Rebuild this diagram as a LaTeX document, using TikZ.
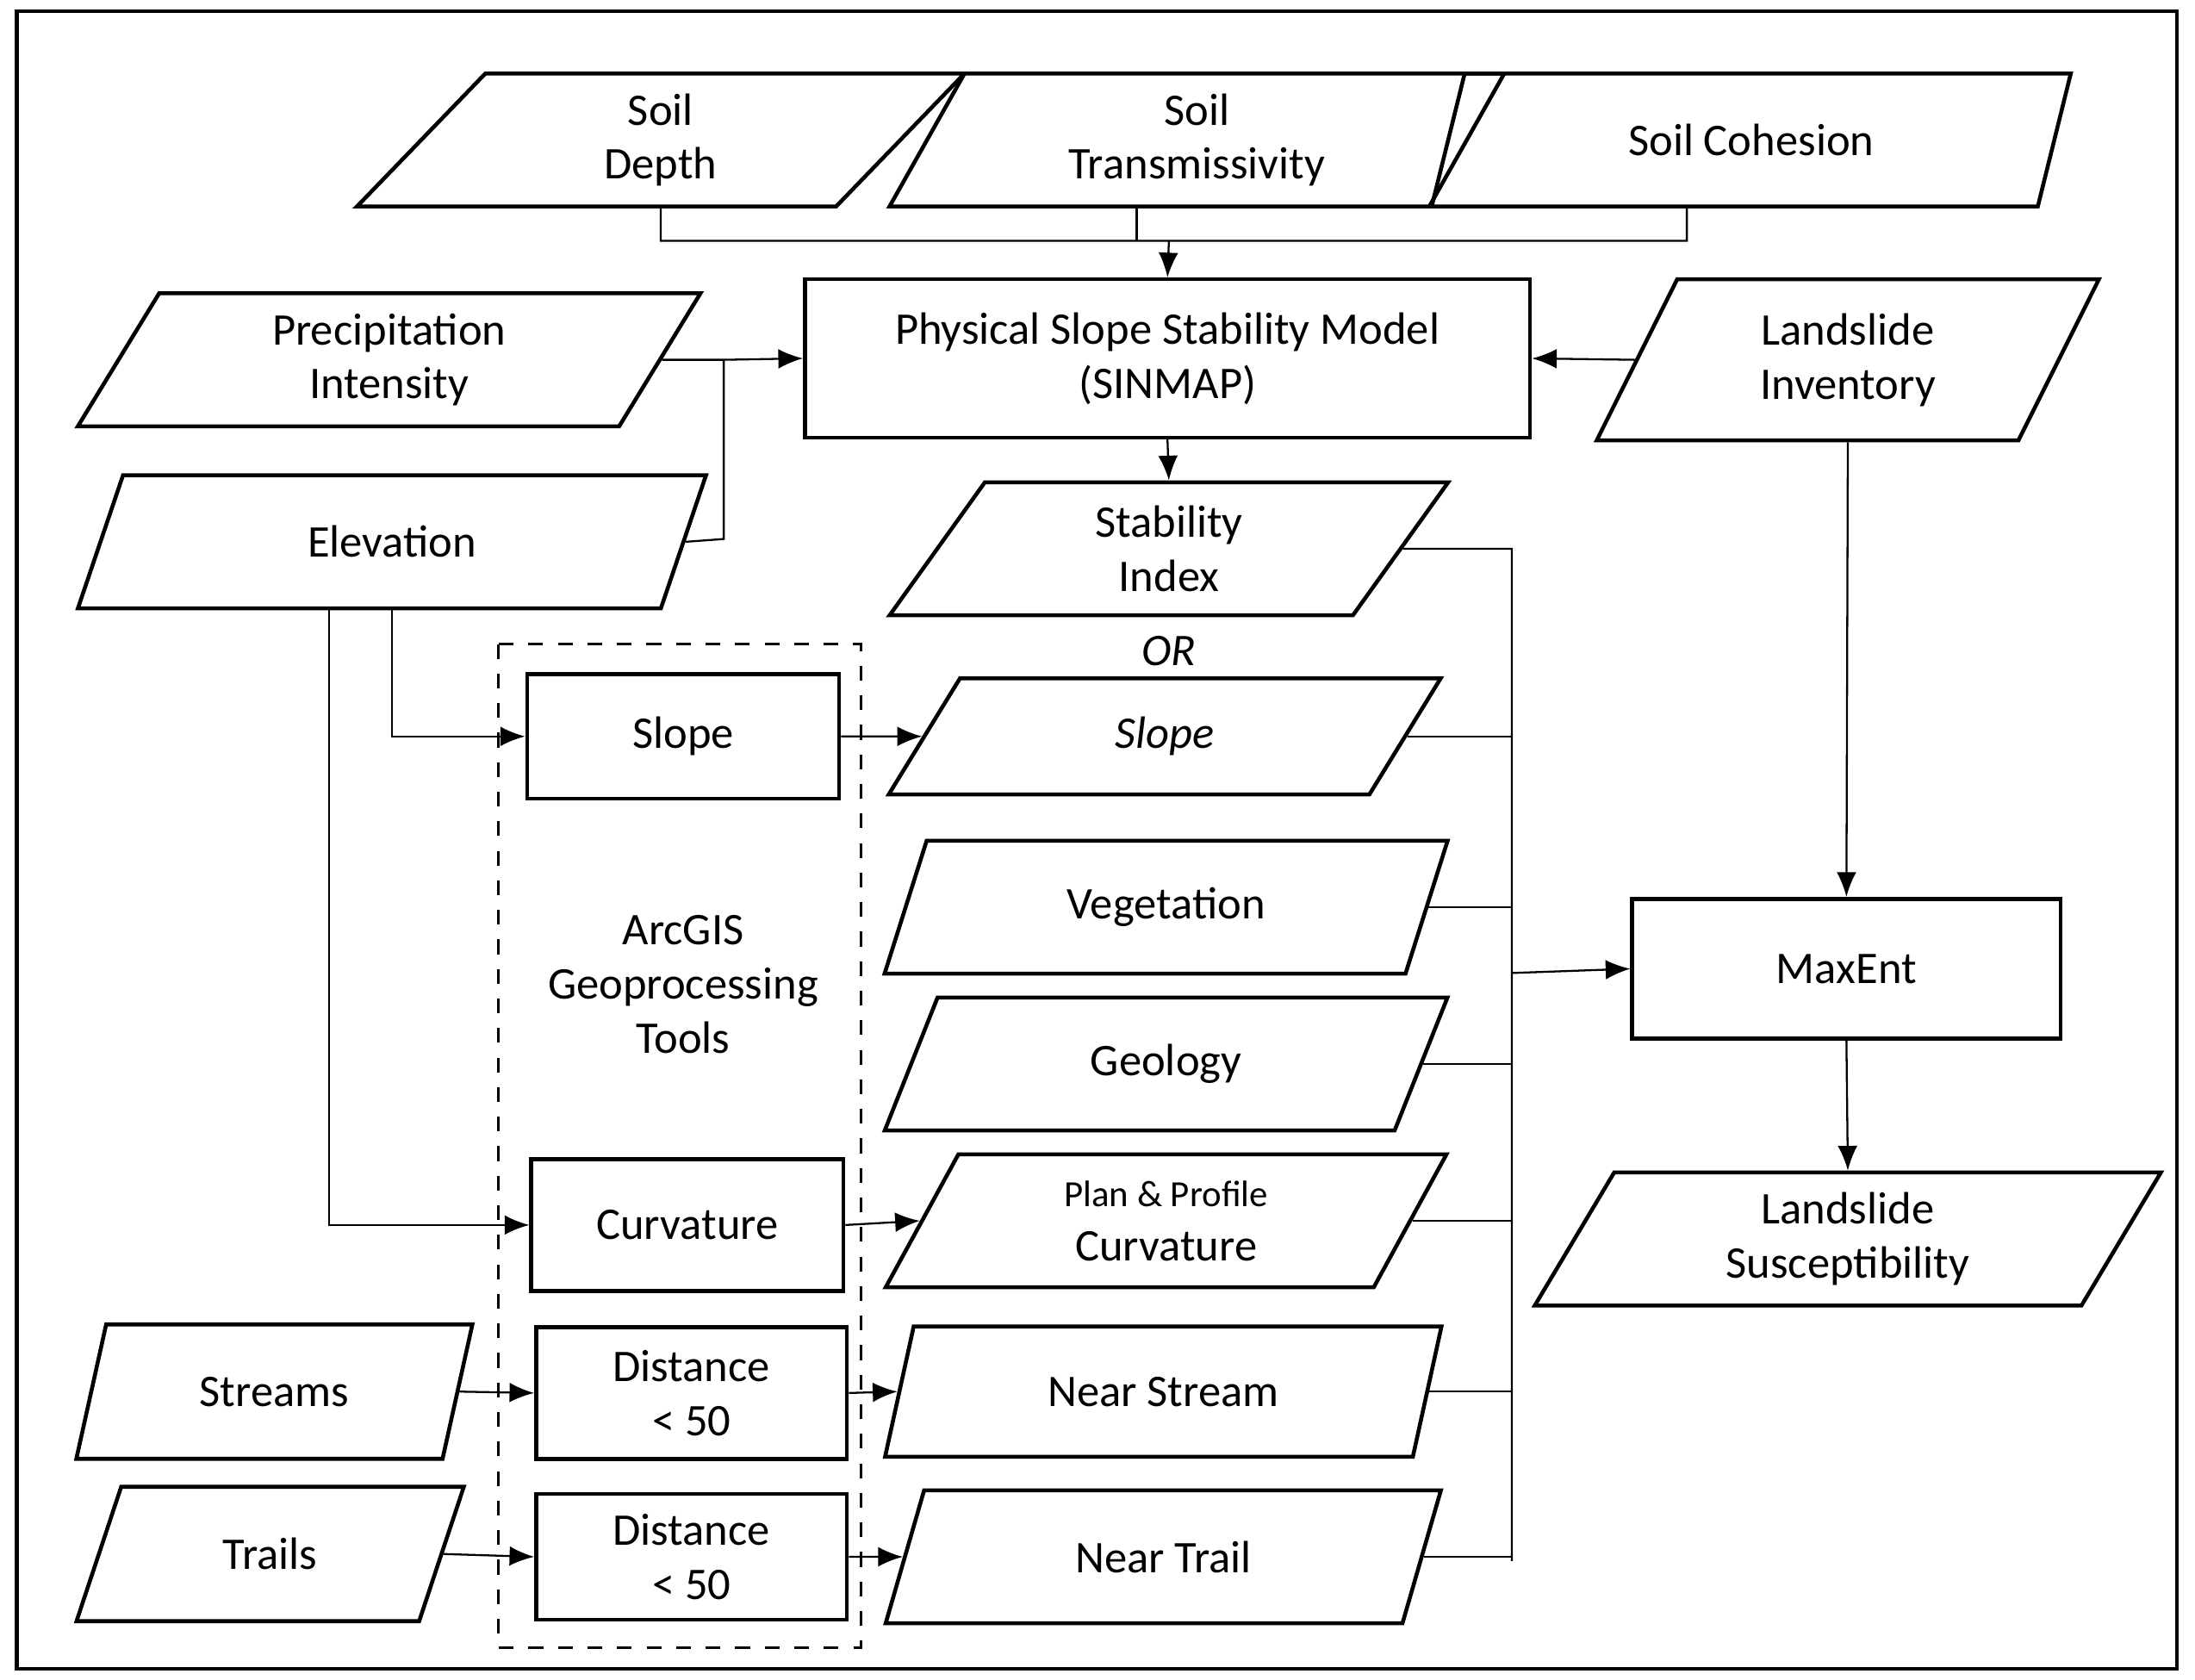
\documentclass[tikz,border=0pt]{standalone}
\usepackage{fontspec}
\setmainfont{Carlito}
\usetikzlibrary{shapes.geometric,arrows.meta}
\begin{document}
\begin{tikzpicture}[x=0.01cm,y=-0.01cm,
 every node/.style={font=\fontsize{9.2}{11}\selectfont, align=center, inner sep=0pt},
 par/.style={draw, thick, trapezium, trapezium left angle=66, trapezium right angle=114, trapezium stretches=true, minimum height=95*0.01cm},
 box/.style={draw, thick, rectangle},
 ln/.style={thin},
 ar/.style={thin,-{Latex[length=5pt,width=4pt]}}]
\useasboundingbox (0,0) rectangle (1568,1200);
\draw[thick] (12,8) rectangle (1555,1192);
\node[par, minimum width=435*0.01cm] (sd) at (472,100) {Soil\\Depth};
\node[par, minimum width=440*0.01cm] (st) at (855,100) {Soil\\Transmissivity};
\node[par, minimum width=458*0.01cm] (sc) at (1251,100) {Soil Cohesion};
\node[par, minimum width=447*0.01cm] (pi) at (278,257) {Precipitation\\Intensity};
\node[par, minimum width=450*0.01cm] (el) at (280,387) {Elevation};
\node[box, minimum width=518*0.01cm, minimum height=113*0.01cm] (sm) at (834,256) {Physical Slope Stability Model\\(SINMAP)};
\node[par, minimum width=360*0.01cm, minimum height=115*0.01cm] (li) at (1320,257) {Landslide\\Inventory};
\node[par, minimum width=400*0.01cm] (si) at (835,392) {Stability\\Index};
\node (or) at (835,465) {\itshape OR};
\node[par, minimum width=395*0.01cm, minimum height=83*0.01cm] (sp) at (832,526) {\itshape Slope};
\node[par, minimum width=403*0.01cm] (vg) at (833,648) {Vegetation};
\node[par, minimum width=403*0.01cm] (ge) at (833,760) {Geology};
\node[par, minimum width=403*0.01cm] (pc) at (833,872) {{\fontsize{7.5}{9}\selectfont Plan \& Profile}\\Curvature};
\node[par, minimum width=398*0.01cm, minimum height=93*0.01cm] (ns) at (831,994) {Near Stream};
\node[par, minimum width=398*0.01cm] (nt) at (831,1112) {Near Trail};
\draw[thin, dashed] (356,460) rectangle (615,1177);
\node[box, minimum width=223*0.01cm, minimum height=89*0.01cm] (sr) at (488,526) {Slope};
\node (ag) at (488,703) {ArcGIS\\Geoprocessing\\Tools};
\node[box, minimum width=223*0.01cm, minimum height=94*0.01cm] (cr) at (491,875) {Curvature};
\node[box, minimum width=222*0.01cm, minimum height=94*0.01cm] (d1) at (494,995) {Distance\\< 50};
\node[box, minimum width=222*0.01cm, minimum height=90*0.01cm] (d2) at (494,1112) {Distance\\< 50};
\node[par, minimum width=283*0.01cm, minimum height=96*0.01cm] (sa) at (196,994) {Streams};
\node[par, minimum width=277*0.01cm, minimum height=96*0.01cm] (tr) at (193,1110) {Trails};
\node[box, minimum width=306*0.01cm, minimum height=100*0.01cm] (me) at (1319,692) {MaxEnt};
\node[par, minimum width=450*0.01cm] (ls) at (1320,885) {Landslide\\Susceptibility};
\coordinate (j) at (835,172);
\draw[ln] (sd.south) -- (472,172) -- (1205,172) -- (1205,147);
\draw[ln] (812,147) -- (812,172);
\draw[ar] (j) -- (sm.north);
\draw[ar] (pi.east) -- (517,257) -- (sm.west);
\draw[ln] (el.east) -- (517,385) -- (517,257);
\draw[ar] (li.west) -- (sm.east);
\draw[ar] (sm.south) -- (si.north);
\draw[ln] (si.east) -- (1080,392) -- (1080,1115);
\foreach \n in {sp,vg,ge,pc,ns,nt} \draw[ln] (\n.east) -- (1080,0 |- \n.east);
\coordinate (b) at (1080,695);
\draw[ar] (b) -- (me.west);
\draw[ar] (li.south) -- (me.north);
\draw[ar] (me.south) -- (ls.north);
\draw[ar] (280,435) -- (280,526) -- (sr.west);
\draw[ar] (235,435) -- (235,875) -- (cr.west);
\draw[ar] (sr.east) -- (sp.west);
\draw[ar] (cr.east) -- (pc.west);
\draw[ar] (sa.east) -- (d1.west);
\draw[ar] (d1.east) -- (ns.west);
\draw[ar] (tr.east) -- (d2.west);
\draw[ar] (d2.east) -- (nt.west);
\end{tikzpicture}
\end{document}
